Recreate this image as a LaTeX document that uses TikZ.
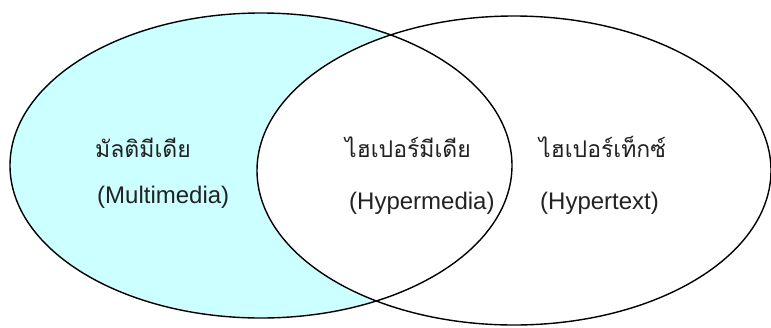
\documentclass[tikz,border=0pt]{standalone}
\usepackage{fontspec}
\setmainfont{Liberation Sans}
\newfontfamily\thaifont[Script=Thai]{Loma}
\usepackage{tikz}

\definecolor{mediacyan}{HTML}{CCFFFF}
\definecolor{labelgray}{HTML}{222222}

\tikzset{
  thlabel/.style={anchor=base west, inner sep=0pt, text=labelgray, font=\thaifont\fontsize{23}{26}\selectfont},
  enlabel/.style={anchor=base west, inner sep=0pt, text=labelgray, font=\fontsize{24}{28}\selectfont}
}

\begin{document}
\begin{tikzpicture}[x=1pt,y=-1pt]
        \useasboundingbox (0,0) rectangle (771,327);

        % Fill the multimedia set, then blank out the overlap
        \fill[mediacyan] (261,165.5) ellipse [x radius=251, y radius=152.5];
        \fill[white] (514,170.5) ellipse [x radius=257, y radius=154.5];

        % Draw both set outlines
        \draw[line width=1.4pt] (261,165.5) ellipse [x radius=251, y radius=152.5];
        \draw[line width=1.4pt] (514,170.5) ellipse [x radius=257, y radius=154.5];

        % Label the multimedia set
        \node[thlabel] (multith) at (95,157) {มัลติมีเดีย};
        \node[enlabel] (multien) at (97,203) {(Multimedia)};

        % Label the overlap
        \node[thlabel] (hyperth) at (345,157) {ไฮเปอร์มีเดีย};
        \node[enlabel] (hyperen) at (349,209) {(Hypermedia)};

        % Label the hypertext set
        \node[thlabel] (textth) at (539,157) {ไฮเปอร์เท็กซ์};
        \node[enlabel] (texten) at (540,209) {(Hypertext)};
    \end{tikzpicture}
\end{document}
